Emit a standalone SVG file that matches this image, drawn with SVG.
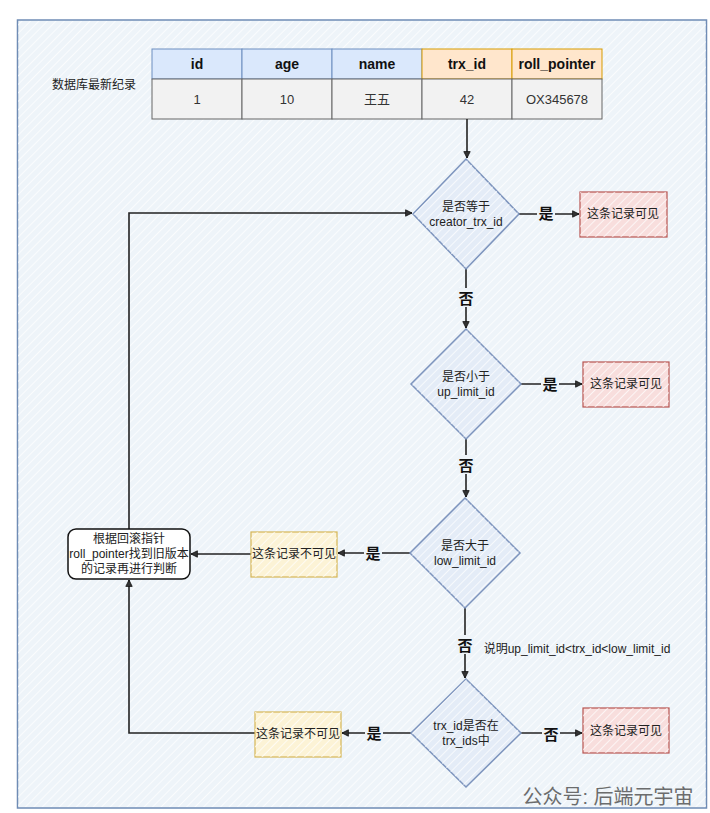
<svg xmlns="http://www.w3.org/2000/svg" width="710" height="813" viewBox="0 0 710 813">
<defs>
<pattern id="hatch" patternUnits="userSpaceOnUse" width="6" height="6" patternTransform="rotate(45)">
<line x1="0" y1="0" x2="0" y2="6" stroke="#ffffff" stroke-width="2" stroke-opacity="0.7"/>
</pattern>
<marker id="arr" viewBox="0 0 10 10" refX="9" refY="5" markerWidth="8" markerHeight="8" markerUnits="userSpaceOnUse" orient="auto">
<path d="M1,1 L9,5 L1,9 Z" fill="#333" stroke="#111" stroke-width="1"/>
</marker>
<style>
text{font-family:"Liberation Sans","Noto Sans CJK SC",sans-serif;fill:#222;text-anchor:middle;dominant-baseline:central}
.th{font-size:14px;font-weight:bold;fill:#111}
.td{font-size:13px;fill:#333}
.t{font-size:12px}
.lab{font-size:15px;font-weight:bold;fill:#111}
.hdrb{fill:#dae8fc;stroke:#6c8ebf;stroke-width:1}
.hdro{fill:#ffe6cc;stroke:#d79b00;stroke-width:1}
.cell{fill:#f2f2f2;stroke:#666;stroke-width:1}
.dia{fill:#e4ecf7;stroke:#7d94bd;stroke-width:1.5}
.red{fill:#f8dedd;stroke:#b85450;stroke-width:1.2}
.yel{fill:#fcf3d6;stroke:#d6b656;stroke-width:1.2}
.hat{fill:url(#hatch);stroke:none}
.edge{fill:none;stroke:#222;stroke-width:1.6}
</style>
</defs>
<rect x="0" y="0" width="710" height="813" fill="#ffffff"/>
<g id="frame">
<rect x="17.5" y="20" width="689" height="788" fill="#eef4f9" stroke="#6f8cb5" stroke-width="1.5"/>
<rect x="18" y="21" width="688" height="786" class="hat"/>
</g>
<g id="label-db"><text x="94" y="85" class="t">数据库最新纪录</text></g>
<g id="table">
<rect x="152" y="49" width="90" height="30" class="hdrb"/>
<rect x="242" y="49" width="90" height="30" class="hdrb"/>
<rect x="332" y="49" width="90" height="30" class="hdrb"/>
<rect x="422" y="49" width="90" height="30" class="hdro"/>
<rect x="512" y="49" width="90" height="30" class="hdro"/>
<rect x="152" y="79" width="90" height="40" class="cell"/>
<rect x="242" y="79" width="90" height="40" class="cell"/>
<rect x="332" y="79" width="90" height="40" class="cell"/>
<rect x="422" y="79" width="90" height="40" class="cell"/>
<rect x="512" y="79" width="90" height="40" class="cell"/>
<text x="197" y="64" class="th">id</text>
<text x="287" y="64" class="th">age</text>
<text x="377" y="64" class="th">name</text>
<text x="467" y="64" class="th">trx_id</text>
<text x="557" y="64" class="th">roll_pointer</text>
<text x="197" y="99" class="td">1</text>
<text x="287" y="99" class="td">10</text>
<text x="377" y="99" class="td">王五</text>
<text x="467" y="99" class="td">42</text>
<text x="557" y="99" class="td">OX345678</text>
</g>
<g id="connectors">
<path d="M467,119 V158" class="edge" marker-end="url(#arr)"/>
<path d="M519,214 H579" class="edge" marker-end="url(#arr)"/>
<path d="M466,269 V328" class="edge" marker-end="url(#arr)"/>
<path d="M521,384 H582" class="edge" marker-end="url(#arr)"/>
<path d="M466,439 V497" class="edge" marker-end="url(#arr)"/>
<path d="M410,553 H338" class="edge" marker-end="url(#arr)"/>
<path d="M251,554 H191" class="edge" marker-end="url(#arr)"/>
<path d="M465,608 V678" class="edge" marker-end="url(#arr)"/>
<path d="M521,733 H582" class="edge" marker-end="url(#arr)"/>
<path d="M411,733 H342" class="edge" marker-end="url(#arr)"/>
<path d="M255,733 H129 V580" class="edge" marker-end="url(#arr)"/>
<path d="M129,529 V213 H412" class="edge" marker-end="url(#arr)"/>
<rect x="537" y="204" width="18" height="19" fill="#eef4f9"/>
<text x="546" y="213" class="lab">是</text>
<rect x="541" y="375" width="18" height="19" fill="#eef4f9"/>
<text x="550" y="384" class="lab">是</text>
<rect x="457" y="288" width="18" height="19" fill="#eef4f9"/>
<text x="466" y="298" class="lab">否</text>
<rect x="457" y="455" width="18" height="19" fill="#eef4f9"/>
<text x="466" y="465" class="lab">否</text>
<rect x="364" y="543" width="18" height="19" fill="#eef4f9"/>
<text x="373" y="553" class="lab">是</text>
<rect x="456" y="635" width="18" height="19" fill="#eef4f9"/>
<text x="465" y="645" class="lab">否</text>
<rect x="542" y="724" width="18" height="19" fill="#eef4f9"/>
<text x="551" y="734" class="lab">否</text>
<rect x="365" y="723" width="18" height="19" fill="#eef4f9"/>
<text x="374" y="733" class="lab">是</text>
<text x="577" y="649" class="t">说明up_limit_id&lt;trx_id&lt;low_limit_id</text>
</g>
<g id="d1">
<polygon points="466,159 519,214 466,269 413,214" class="dia"/>
<polygon points="466,159 519,214 466,269 413,214" class="hat"/>
<text x="466" y="207" class="t">是否等于</text>
<text x="466" y="222" class="t">creator_trx_id</text>
</g>
<g id="v1">
<rect x="580" y="192" width="87" height="45" class="red"/>
<rect x="580" y="192" width="87" height="45" class="hat"/>
<text x="623" y="214" class="t">这条记录可见</text>
</g>
<g id="d2">
<polygon points="466,329 521,384 466,439 411,384" class="dia"/>
<polygon points="466,329 521,384 466,439 411,384" class="hat"/>
<text x="466" y="377" class="t">是否小于</text>
<text x="466" y="392" class="t">up_limit_id</text>
</g>
<g id="v2">
<rect x="583" y="362" width="86" height="45" class="red"/>
<rect x="583" y="362" width="86" height="45" class="hat"/>
<text x="626" y="384" class="t">这条记录可见</text>
</g>
<g id="d3">
<polygon points="465,498 520,553 465,608 410,553" class="dia"/>
<polygon points="465,498 520,553 465,608 410,553" class="hat"/>
<text x="465" y="546" class="t">是否大于</text>
<text x="465" y="561" class="t">low_limit_id</text>
</g>
<g id="nv1">
<rect x="251" y="532" width="86" height="45" class="yel"/>
<rect x="251" y="532" width="86" height="45" class="hat"/>
<text x="294" y="554" class="t">这条记录不可见</text>
</g>
<g id="rollback">
<rect x="68" y="529" width="122" height="50" rx="8" fill="#ffffff" stroke="#111" stroke-width="1.5"/>
<text x="129" y="539" class="t">根据回滚指针</text>
<text x="129" y="554" class="t">roll_pointer找到旧版本</text>
<text x="129" y="569" class="t">的记录再进行判断</text>
</g>
<g id="d4">
<polygon points="466,679 521,733 466,787 411,733" class="dia"/>
<polygon points="466,679 521,733 466,787 411,733" class="hat"/>
<text x="466" y="726" class="t">trx_id是否在</text>
<text x="466" y="741" class="t">trx_ids中</text>
</g>
<g id="v3">
<rect x="583" y="708" width="86" height="45" class="red"/>
<rect x="583" y="708" width="86" height="45" class="hat"/>
<text x="626" y="731" class="t">这条记录可见</text>
</g>
<g id="nv2">
<rect x="255" y="712" width="86" height="45" class="yel"/>
<rect x="255" y="712" width="86" height="45" class="hat"/>
<text x="298" y="734" class="t">这条记录不可见</text>
</g>
<g id="watermark">
<text x="608" y="797" style="font-size:20px;fill:#555;opacity:0.85">公众号: 后端元宇宙</text>
</g>
</svg>
